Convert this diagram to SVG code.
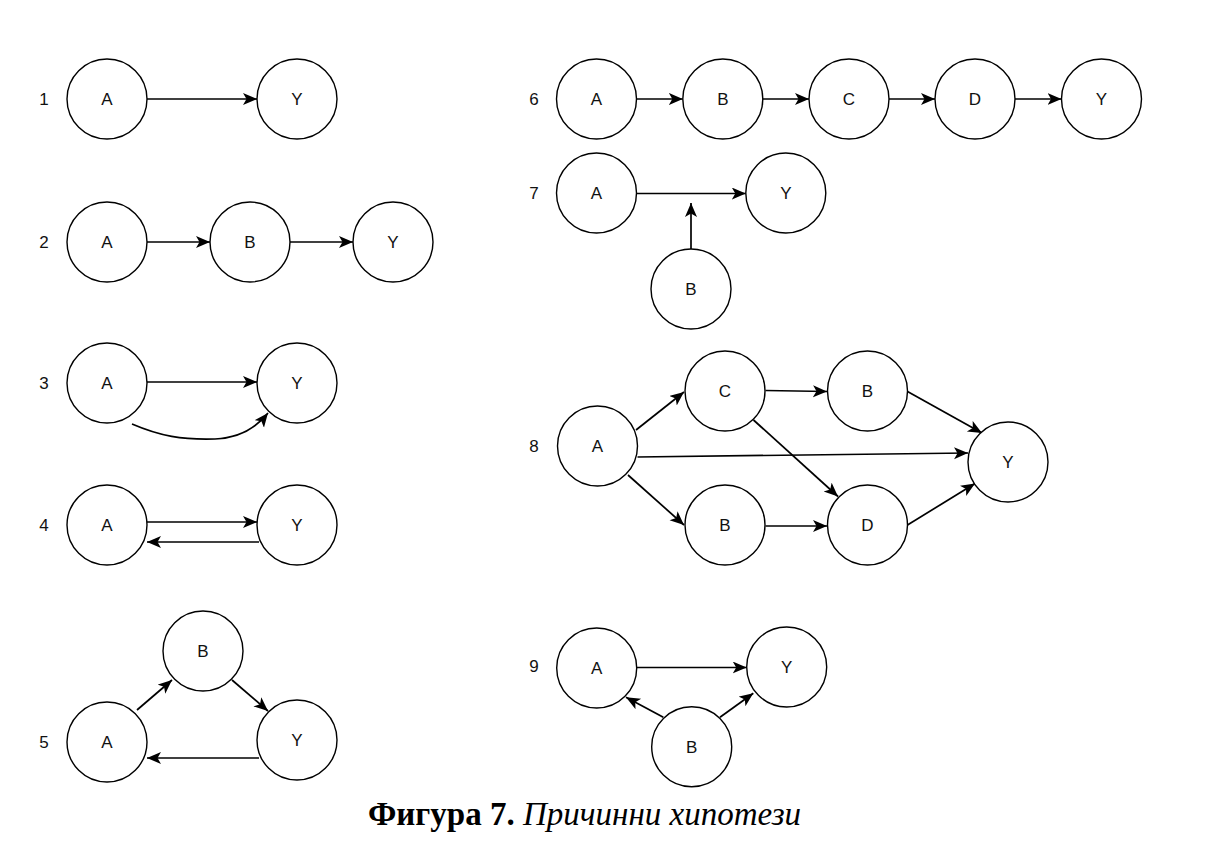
<svg xmlns="http://www.w3.org/2000/svg" width="1213" height="857" viewBox="0 0 1213 857">
<style>
.n{fill:#fff;stroke:#000;stroke-width:1.4}
.t{font-family:"Liberation Sans",Arial,sans-serif;font-size:17px;fill:#111;text-anchor:middle}
.num{font-family:"Liberation Sans",Arial,sans-serif;font-size:17px;fill:#111;text-anchor:middle}
.e{fill:none;stroke:#000;stroke-width:1.7;marker-end:url(#ah)}
.cap{font-family:"Liberation Serif","Times New Roman",serif;font-size:33px;fill:#000}
</style>
<defs>
<marker id="ah" markerUnits="userSpaceOnUse" markerWidth="16" markerHeight="14" refX="14" refY="6" orient="auto">
<path d="M0,0 L14,6 L0,12 L3.5,6 Z" fill="#000"/>
</marker>
</defs>
<rect width="1213" height="857" fill="#fff"/>
<g id="labels">
<text class="num" x="44" y="105">1</text>
<text class="num" x="44" y="248">2</text>
<text class="num" x="44" y="389">3</text>
<text class="num" x="44" y="531">4</text>
<text class="num" x="44" y="748">5</text>
<text class="num" x="534" y="105">6</text>
<text class="num" x="534" y="199">7</text>
<text class="num" x="534" y="452">8</text>
<text class="num" x="534" y="672">9</text>
</g>
<g id="connectors">
<line class="e" x1="147" y1="99" x2="257" y2="99"/>
<line class="e" x1="147" y1="242" x2="210" y2="242"/>
<line class="e" x1="290" y1="242" x2="353" y2="242"/>
<line class="e" x1="147" y1="382" x2="257" y2="382"/>
<path class="e" d="M132,424 C160,436 182,440 215,439 C240,438 256,428 268,413"/>
<line class="e" x1="147" y1="522" x2="257" y2="522"/>
<line class="e" x1="259" y1="542" x2="147" y2="542"/>
<line class="e" x1="137" y1="710" x2="172" y2="680"/>
<line class="e" x1="232" y1="680" x2="268" y2="711"/>
<line class="e" x1="259" y1="758" x2="147" y2="758"/>
<line class="e" x1="636.5" y1="99" x2="682.8" y2="99"/>
<line class="e" x1="762.8" y1="99" x2="809" y2="99"/>
<line class="e" x1="889" y1="99" x2="935" y2="99"/>
<line class="e" x1="1015" y1="99" x2="1061.5" y2="99"/>
<line class="e" x1="636.5" y1="193.5" x2="745.8" y2="193.5"/>
<line class="e" x1="691" y1="249" x2="691" y2="203"/>
<line class="e" x1="636" y1="430" x2="684" y2="392"/>
<line class="e" x1="765.5" y1="390.5" x2="827" y2="391.5"/>
<line class="e" x1="907.5" y1="391.5" x2="982" y2="433"/>
<line class="e" x1="637.5" y1="457" x2="968" y2="453"/>
<line class="e" x1="753.5" y1="420" x2="838" y2="496.5"/>
<line class="e" x1="628" y1="475" x2="684" y2="525"/>
<line class="e" x1="765.5" y1="526" x2="827" y2="526"/>
<line class="e" x1="907.5" y1="525" x2="975" y2="483.5"/>
<line class="e" x1="636.7" y1="667.5" x2="746.7" y2="667.5"/>
<line class="e" x1="663.3" y1="717.3" x2="626" y2="697.3"/>
<line class="e" x1="720" y1="717.3" x2="753.3" y2="693.3"/>
</g>
<g id="d1-A"><circle class="n" cx="107" cy="99" r="40"/><text class="t" x="107" y="105">A</text></g>
<g id="d1-Y"><circle class="n" cx="297" cy="99" r="40"/><text class="t" x="297" y="105">Y</text></g>
<g id="d2-A"><circle class="n" cx="107" cy="242" r="40"/><text class="t" x="107" y="248">A</text></g>
<g id="d2-B"><circle class="n" cx="250" cy="242" r="40"/><text class="t" x="250" y="248">B</text></g>
<g id="d2-Y"><circle class="n" cx="393" cy="242" r="40"/><text class="t" x="393" y="248">Y</text></g>
<g id="d3-A"><circle class="n" cx="107" cy="383" r="40"/><text class="t" x="107" y="389">A</text></g>
<g id="d3-Y"><circle class="n" cx="297" cy="383" r="40"/><text class="t" x="297" y="389">Y</text></g>
<g id="d4-A"><circle class="n" cx="107" cy="525" r="40"/><text class="t" x="107" y="531">A</text></g>
<g id="d4-Y"><circle class="n" cx="297" cy="525" r="40"/><text class="t" x="297" y="531">Y</text></g>
<g id="d5-B"><circle class="n" cx="203" cy="651" r="40"/><text class="t" x="203" y="657">B</text></g>
<g id="d5-A"><circle class="n" cx="107" cy="742" r="40"/><text class="t" x="107" y="748">A</text></g>
<g id="d5-Y"><circle class="n" cx="297" cy="740" r="40"/><text class="t" x="297" y="746">Y</text></g>
<g id="d6-A"><circle class="n" cx="596.5" cy="99" r="40"/><text class="t" x="596.5" y="105">A</text></g>
<g id="d6-B"><circle class="n" cx="722.8" cy="99" r="40"/><text class="t" x="722.8" y="105">B</text></g>
<g id="d6-C"><circle class="n" cx="849" cy="99" r="40"/><text class="t" x="849" y="105">C</text></g>
<g id="d6-D"><circle class="n" cx="975" cy="99" r="40"/><text class="t" x="975" y="105">D</text></g>
<g id="d6-Y"><circle class="n" cx="1101.5" cy="99" r="40"/><text class="t" x="1101.5" y="105">Y</text></g>
<g id="d7-A"><circle class="n" cx="596.5" cy="193" r="40"/><text class="t" x="596.5" y="199">A</text></g>
<g id="d7-Y"><circle class="n" cx="785.8" cy="193" r="40"/><text class="t" x="785.8" y="199">Y</text></g>
<g id="d7-B"><circle class="n" cx="691" cy="289" r="40"/><text class="t" x="691" y="295">B</text></g>
<g id="d8-A"><circle class="n" cx="597.5" cy="446" r="40"/><text class="t" x="597.5" y="452">A</text></g>
<g id="d8-C"><circle class="n" cx="725" cy="391" r="40"/><text class="t" x="725" y="397">C</text></g>
<g id="d8-B1"><circle class="n" cx="867.5" cy="391" r="40"/><text class="t" x="867.5" y="397">B</text></g>
<g id="d8-Y"><circle class="n" cx="1008" cy="462" r="40"/><text class="t" x="1008" y="468">Y</text></g>
<g id="d8-B2"><circle class="n" cx="725" cy="525" r="40"/><text class="t" x="725" y="531">B</text></g>
<g id="d8-D"><circle class="n" cx="867.5" cy="525" r="40"/><text class="t" x="867.5" y="531">D</text></g>
<g id="d9-A"><circle class="n" cx="596.7" cy="668" r="40"/><text class="t" x="596.7" y="674">A</text></g>
<g id="d9-Y"><circle class="n" cx="786.7" cy="667" r="40"/><text class="t" x="786.7" y="673">Y</text></g>
<g id="d9-B"><circle class="n" cx="691.7" cy="746.7" r="40"/><text class="t" x="691.7" y="752.7">B</text></g>
<g id="caption"><text class="cap" x="368" y="825"><tspan font-weight="bold">Фигура 7.</tspan> <tspan font-style="italic">Причинни хипотези</tspan></text></g>
</svg>
